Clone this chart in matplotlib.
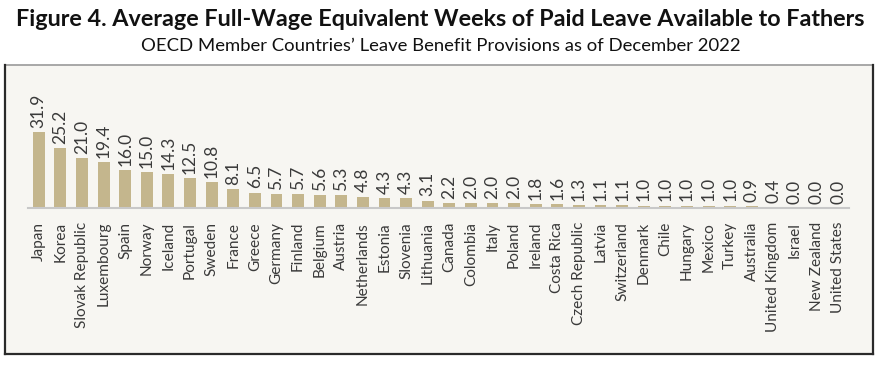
import matplotlib
matplotlib.use("Agg")
import matplotlib.pyplot as plt
from matplotlib.patches import Rectangle
from matplotlib.lines import Line2D

countries = ["Japan", "Korea", "Slovak Republic", "Luxembourg", "Spain", "Norway",
             "Iceland", "Portugal", "Sweden", "France", "Greece", "Germany", "Finland",
             "Belgium", "Austria", "Netherlands", "Estonia", "Slovenia", "Lithuania",
             "Canada", "Colombia", "Italy", "Poland", "Ireland", "Costa Rica",
             "Czech Republic", "Latvia", "Switzerland", "Denmark", "Chile", "Hungary",
             "Mexico", "Turkey", "Australia", "United Kingdom", "Israel", "New Zealand",
             "United States"]
weeks = [31.9, 25.2, 21.0, 19.4, 16.0, 15.0, 14.3, 12.5, 10.8, 8.1, 6.5, 5.7, 5.7,
         5.6, 5.3, 4.8, 4.3, 4.3, 3.1, 2.2, 2.0, 2.0, 2.0, 1.8, 1.6, 1.3, 1.1, 1.1,
         1.0, 1.0, 1.0, 1.0, 1.0, 0.9, 0.4, 0.0, 0.0, 0.0]

title = "Figure 4. Average Full-Wage Equivalent Weeks of Paid Leave Available to Fathers"
subtitle = "OECD Member Countries\u2019 Leave Benefit Provisions as of December 2022"

W, H = 881, 366
fig = plt.figure(figsize=(W / 100, H / 100), dpi=100)
fig.patch.set_facecolor("white")

# panel
px0, py0, px1, py1 = 5, 65, 873, 354
fig.patches.append(Rectangle((px0 / W, 1 - py1 / H), (px1 - px0) / W, (py1 - py0) / H,
                             transform=fig.transFigure, facecolor="#f7f6f2",
                             edgecolor="none", zorder=-2))
def fline(x0, y0, x1, y1, c, lw):
    fig.lines.append(Line2D([x0 / W, x1 / W], [1 - y0 / H, 1 - y1 / H],
                            transform=fig.transFigure, color=c, lw=lw, zorder=-1))
fline(px0, py0, px1, py0, "#9a9a9a", 1.2)
fline(px0, py0, px0, py1, "#2a2a2a", 1.6)
fline(px1, py0, px1, py1, "#2a2a2a", 1.6)
fline(px0, py1, px1, py1, "#2a2a2a", 1.6)

# axes
ax_l, ax_r, ax_b, ax_t = 28, 849, 208, 75
ax = fig.add_axes([ax_l / W, 1 - ax_b / H, (ax_r - ax_l) / W, (ax_b - ax_t) / H])
ax.set_zorder(5)
ax.set_facecolor("none")
x = list(range(len(countries)))
bars = ax.bar(x, weeks, width=0.55, color="#c4b68d", zorder=2)
ax.set_xlim(-0.5, len(countries) - 0.5)
ax.set_ylim(0, 56)
for s in ["top", "right", "left"]:
    ax.spines[s].set_visible(False)
ax.spines["bottom"].set_color("#c8c8c8")
ax.spines["bottom"].set_linewidth(1.5)
ax.set_yticks([])
ax.set_xticks(x)
ax.set_xticklabels(countries, rotation=90, fontsize=11.1, family="Lato", color="#3a3a3a")
ax.tick_params(axis="x", length=0, pad=10)
for xi, v in zip(x, weeks):
    ax.annotate(f"{v:.1f}", (xi, v), xytext=(0, 3), textcoords="offset points",
                rotation=90, ha="center", va="bottom", fontsize=12.5, family="Lato",
                color="#3a3a3a")

fig.text(0.5, 1 - 19 / H, title, ha="center", va="center", fontsize=16.8,
         fontweight="bold", family="Lato", color="#111111")
fig.text(0.5, 1 - 46 / H, subtitle, ha="center", va="center", fontsize=13.3,
         family="Lato", color="#111111")

fig.savefig("out.png", dpi=100, facecolor="white")
